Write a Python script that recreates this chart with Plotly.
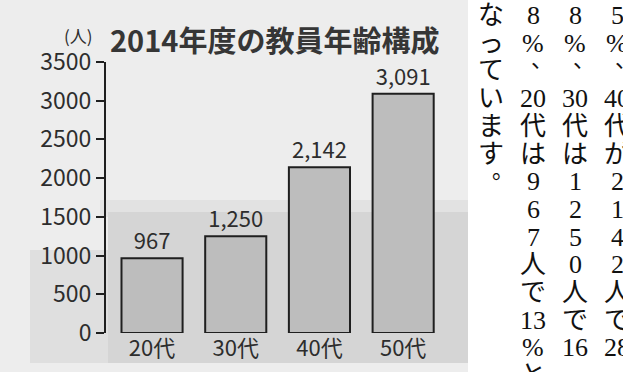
import plotly.graph_objects as go

# Figure size in pixels
W, H = 623, 372

# Chart data
AGE_GROUPS = ["20代", "30代", "40代", "50代"]
TEACHERS = [967, 1250, 2142, 3091]
Y_TICKS = [0, 500, 1000, 1500, 2000, 2500, 3000, 3500]
TITLE = "2014年度の教員年齢構成"
UNIT = "(人)"

# Vertical article text (columns left to right)
CLOSING = ["な", "っ", "て", "い", "ま", "す", "。"]
LEAD_DIGITS = ["8", "8", "5"]
PARTICLES = ["は", "は", "が"]
PERCENTS = ["13", "16", "28"]
TAILS = [["%", "と"], [], []]

CHART_FONT = "Noto Sans CJK JP"
PROSE_FONT = "'Liberation Serif', 'DejaVu Serif', 'Noto Sans CJK JP', serif"
INK = "#2d2d2d"


def px_x(x):
    return x / W


def px_y(y):
    return 1 - y / H


fig = go.Figure()

fig.add_trace(go.Bar(
    x=AGE_GROUPS,
    y=TEACHERS,
    width=0.73,
    marker=dict(color="#bdbdbd", line=dict(color="#1f1f1f", width=2)),
    text=[f"{v:,}" for v in TEACHERS],
    textposition="outside",
    textfont=dict(family=CHART_FONT, size=22, color=INK),
    cliponaxis=False,
    hoverinfo="skip",
))

# Scanned-paper background behind the chart
def rect(x0, x1, y0, y1, color, opacity=1.0):
    return dict(type="rect", xref="paper", yref="paper", layer="below",
                x0=px_x(x0), x1=px_x(x1), y0=px_y(y1), y1=px_y(y0),
                fillcolor=color, opacity=opacity, line=dict(width=0))


shapes = [
    rect(0, 468, 0, H, "#ededed"),
    rect(100, 468, 200, 217, "#dedede", 0.8),
    rect(108, 468, 212, 363, "#d5d5d5"),
    rect(30, 108, 250, 363, "#dfdfdf"),
]

annotations = [
    dict(text=TITLE, x=px_x(274), y=px_y(39), xanchor="center", yanchor="middle",
         font=dict(family=CHART_FONT, size=29, color="#363636", weight="bold")),
    dict(text=UNIT, x=px_x(78), y=px_y(35), xanchor="center", yanchor="middle",
         font=dict(family=CHART_FONT, size=17, color=INK)),
]

# Build vertical text columns, the counts taken from the chart data
columns = [CLOSING]
for k in range(3):
    cells = [LEAD_DIGITS[k], "%", "、", AGE_GROUPS[k][:2], "代", PARTICLES[k]]
    cells += list(str(TEACHERS[k]))
    cells += ["人", "で", PERCENTS[k]] + TAILS[k]
    columns.append(cells)

COL_X = [491, 533, 575, 617]
ROW_Y0, ROW_PITCH = 15.5, 27.7
# Vertical-writing punctuation sits in the upper right of its cell
PUNCT = {"、": (9, -11), "。": (12, -11)}

for cx, cells in zip(COL_X, columns):
    for i, ch in enumerate(cells):
        dx, dy = PUNCT.get(ch, (0, 0))
        annotations.append(dict(
            text=ch, x=px_x(cx + dx), y=px_y(ROW_Y0 + i * ROW_PITCH + dy),
            xanchor="center", yanchor="middle",
            font=dict(family=PROSE_FONT, size=22 if ch in PUNCT else 26,
                      color="#111111"),
        ))

for a in annotations:
    a.update(xref="paper", yref="paper", showarrow=False)

fig.update_layout(
    template="none",
    width=W, height=H, autosize=False,
    margin=dict(l=0, r=0, t=0, b=0, pad=0),
    paper_bgcolor="white",
    plot_bgcolor="rgba(0,0,0,0)",
    showlegend=False,
    shapes=shapes,
    annotations=annotations,
    xaxis=dict(
        domain=[px_x(106), px_x(445)],
        range=[-0.55, 3.5],
        showline=False, showgrid=False, zeroline=False, ticks="",
        tickfont=dict(family=CHART_FONT, size=22, color=INK),
        automargin=False, fixedrange=True,
    ),
    yaxis=dict(
        domain=[px_y(333), px_y(62)],
        range=[0, 3500],
        tickvals=Y_TICKS,
        showline=True, linecolor="#1f1f1f", linewidth=2,
        ticks="outside", ticklen=8, tickwidth=2, tickcolor="#1f1f1f",
        showgrid=False, zeroline=False,
        tickfont=dict(family=CHART_FONT, size=23, color=INK),
        automargin=False, fixedrange=True,
    ),
)

fig.write_html("out.html")
